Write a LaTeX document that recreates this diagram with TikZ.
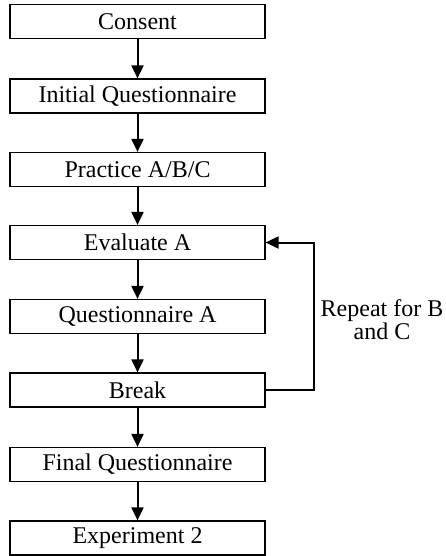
\documentclass[tikz,border=0pt]{standalone}
\usepackage{fontspec}
\setmainfont{Liberation Serif}
\usetikzlibrary{arrows.meta}
\begin{document}
\begin{tikzpicture}[x=1pt,y=1pt,
  box/.style={draw, line width=1.2pt, minimum width=255pt, minimum height=34pt, inner sep=0pt, font=\fontsize{24}{23}\selectfont},
  arr/.style={line width=2pt, -{Triangle[length=13pt,width=12pt]}}]
\useasboundingbox (0,0) rectangle (445,-556);
\node[box] (n1) at (137.5,-21.5) {Consent};
\node[box] (n2) at (137.5,-96) {Initial Questionnaire};
\node[box] (n3) at (137.5,-169.5) {Practice A/B/C};
\node[box] (n4) at (137.5,-242.5) {Evaluate A};
\node[box] (n5) at (137.5,-316.5) {Questionnaire A};
\node[box] (n6) at (137.5,-390) {Break};
\node[box] (n7) at (137.5,-464.5) {Final Questionnaire};
\node[box] (n8) at (137.5,-538) {Experiment 2};
\draw[arr] (n1) -- (n2);
\draw[arr] (n2) -- (n3);
\draw[arr] (n3) -- (n4);
\draw[arr] (n4) -- (n5);
\draw[arr] (n5) -- (n6);
\draw[arr] (n6) -- (n7);
\draw[arr] (n7) -- (n8);
\coordinate (c1) at (314,-390);
\coordinate (c2) at (314,-242.5);
\draw[arr] (n6.east) -- (c1) -- (c2) -- (n4.east);
\node[align=center, inner sep=0pt, font=\fontsize{24}{23}\selectfont] (lbl) at (382,-320) {Repeat for B\\and C};
\end{tikzpicture}
\end{document}
